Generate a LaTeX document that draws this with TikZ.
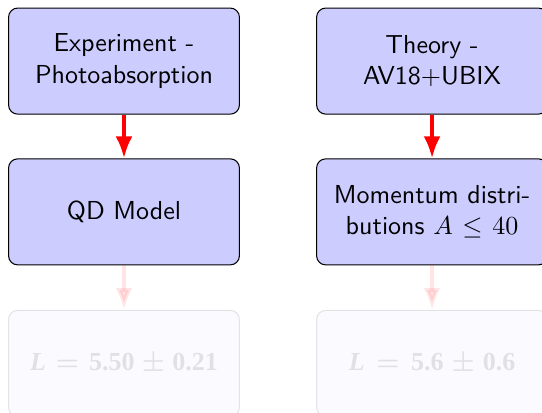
\documentclass[tikz,border=0pt]{standalone}
\usepackage{fontspec}
\newfontfamily\resultfont{Liberation Serif}
\usetikzlibrary{arrows.meta}
\newcommand{\result}[2]{{\boldmath\resultfont\bfseries\itshape L\/\upshape${}={}$#1${}\pm{}$#2}}
\begin{document}
\begin{tikzpicture}[font=\sffamily,
    box/.style={draw=black, fill=blue!20, rounded corners=3.5pt,
      minimum width=88.8pt, minimum height=40.8pt,
      text width=80pt, align=center, inner sep=0pt},
    flow/.style={red, line width=1.5pt, -{Latex[length=8.4pt,width=6.5pt]}},
    dimmed/.style={opacity=0.1}]
    \useasboundingbox (0,0) rectangle (208.5pt,-158.8pt);
    \node[box] (exp) at (47.7pt,-23.5pt) {Experiment -\\Photoabsorption};
    \node[box] (theo) at (166.2pt,-23.5pt) {Theory -\\AV18+UBIX};
    \node[box] (qd) at (47.7pt,-81.5pt) {QD Model};
    \node[box] (mom) at (166.2pt,-81.5pt) {Momentum distri-\\butions $A\le 40$};
    \node[box, dimmed] (lexp) at (47.7pt,-139.8pt) {\result{5.50}{0.21}};
    \node[box, dimmed] (ltheo) at (166.2pt,-139.8pt) {\result{5.6}{0.6}};
    \draw[flow] (exp) -- (qd);
    \draw[flow] (theo) -- (mom);
    \draw[flow, dimmed] (qd) -- (lexp);
    \draw[flow, dimmed] (mom) -- (ltheo);
\end{tikzpicture}
\end{document}
